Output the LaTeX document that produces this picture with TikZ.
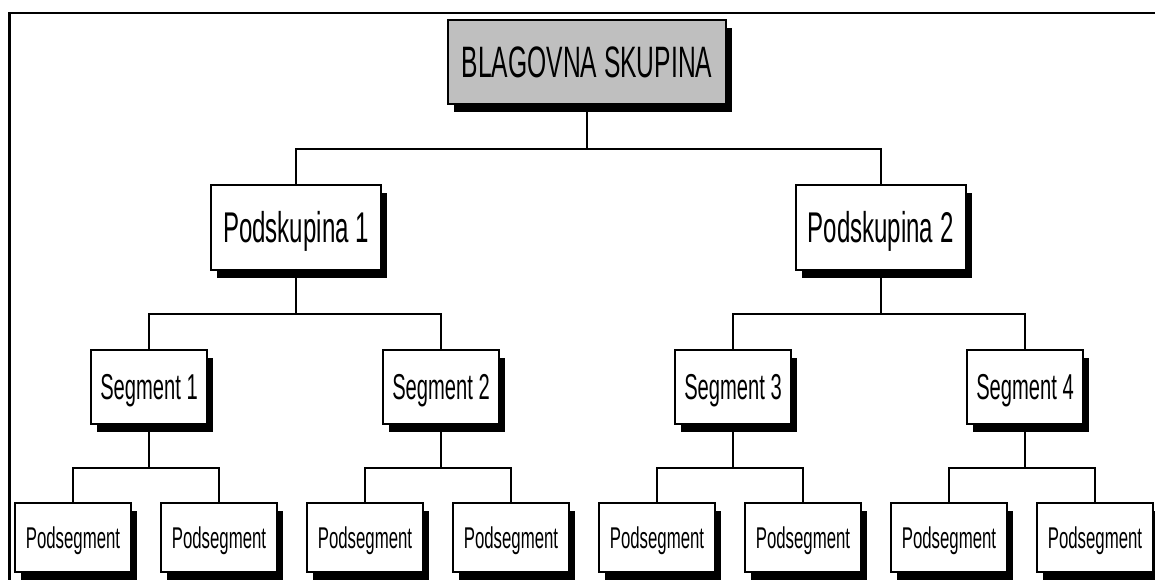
\documentclass[tikz,border=0pt]{standalone}
\usepackage{fontspec}
\setmainfont{Liberation Sans}
\newfontfamily\narrowsans{Liberation Sans}[FakeStretch=0.56]
\usetikzlibrary{shadows}
\begin{document}
\begin{tikzpicture}[x=1pt,y=-1pt,
  box/.style={draw=black, line width=2pt, fill=white, inner sep=0pt,
    drop shadow={shadow xshift=6pt, shadow yshift=-8pt, fill=black, opacity=1},
    text depth=0pt},
  rootbox/.style={box, fill=black!25, minimum width=278pt, minimum height=84pt,
    text height=31.5pt, font=\narrowsans\fontsize{44}{44}\selectfont},
  groupbox/.style={box, minimum width=170pt, minimum height=85pt,
    text height=31pt, font=\narrowsans\fontsize{43}{43}\selectfont},
  segbox/.style={box, minimum width=116pt, minimum height=74pt,
    text height=25.5pt, font=\narrowsans\fontsize{36}{36}\selectfont},
  subbox/.style={box, minimum width=116pt, minimum height=69pt,
    text height=21.7pt, font=\narrowsans\fontsize{30}{30}\selectfont},
  link/.style={draw=black, line width=2pt}
]
\useasboundingbox (0,0) rectangle (1155,580);

% frame
\draw[line width=2.2pt] (9.5,580) -- (9.5,13.3) -- (1155,13.3);

% root
\node[rootbox] (top) at (587,62) {BLAGOVNA SKUPINA};

% subgroups
\node[groupbox] (p1) at (296,227) {Podskupina 1};
\node[groupbox] (p2) at (880.5,227) {Podskupina 2};

% segments
\node[segbox] (s1) at (149,386.5) {Segment 1};
\node[segbox] (s2) at (441,386.5) {Segment 2};
\node[segbox] (s3) at (733,386.5) {Segment 3};
\node[segbox] (s4) at (1025,386.5) {Segment 4};

% subsegments
\foreach \i/\x in {1/73,2/219,3/365,4/511,5/657,6/803,7/949,8/1095}
  \node[subbox] (ps\i) at (\x,537.5) {Podsegment};

% connectors
\draw[link] (top.south) -- ++(0,44) coordinate (j0);
\draw[link] (p1.north) |- (j0) -| (p2.north);

\draw[link] (p1.south) -- ++(0,43) coordinate (j1);
\draw[link] (s1.north) |- (j1) -| (s2.north);
\draw[link] (p2.south) -- ++(0,43) coordinate (j2);
\draw[link] (s3.north) |- (j2) -| (s4.north);

\draw[link] (s1.south) -- ++(0,43) coordinate (k1);
\draw[link] (ps1.north) |- (k1) -| (ps2.north);
\draw[link] (s2.south) -- ++(0,43) coordinate (k2);
\draw[link] (ps3.north) |- (k2) -| (ps4.north);
\draw[link] (s3.south) -- ++(0,43) coordinate (k3);
\draw[link] (ps5.north) |- (k3) -| (ps6.north);
\draw[link] (s4.south) -- ++(0,43) coordinate (k4);
\draw[link] (ps7.north) |- (k4) -| (ps8.north);
\end{tikzpicture}
\end{document}
